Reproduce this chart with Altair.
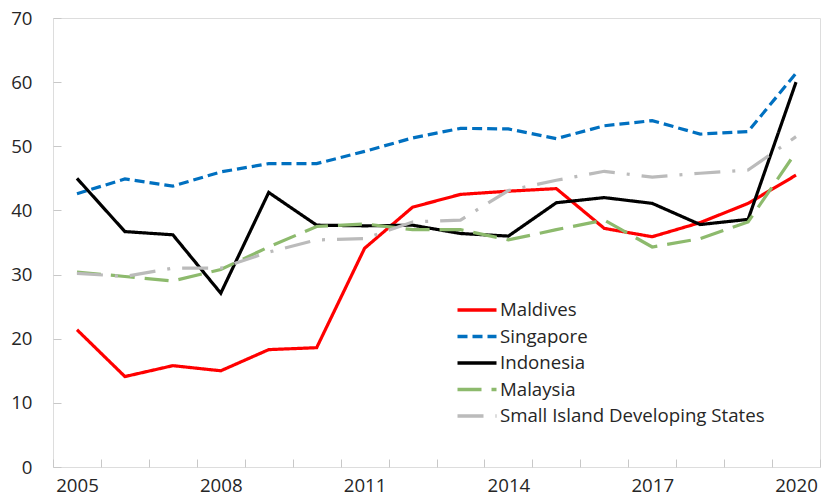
import altair as alt
import pandas as pd

years = list(range(2005, 2021))
series_names = ["Maldives", "Singapore", "Indonesia", "Malaysia", "Small Island Developing States"]
maldives = [21.4, 14.1, 15.8, 15.0, 18.3, 18.6, 34.1, 40.5, 42.5, 43.0, 43.4, 37.2, 35.9, 38.1, 41.1, 45.5]
singapore = [42.6, 44.9, 43.8, 46.0, 47.3, 47.3, 49.2, 51.3, 52.8, 52.7, 51.2, 53.2, 54.0, 51.9, 52.3, 61.4]
indonesia = [45.0, 36.7, 36.2, 27.1, 42.8, 37.7, 37.6, 37.7, 36.4, 36.0, 41.2, 42.0, 41.1, 37.8, 38.6, 60.0]
malaysia = [30.4, 29.7, 29.0, 30.8, 34.3, 37.5, 37.9, 37.0, 37.0, 35.4, 37.0, 38.5, 34.3, 35.6, 38.2, 49.1]
sids = [30.2, 29.7, 31.0, 31.0, 33.5, 35.4, 35.6, 38.2, 38.5, 43.1, 44.7, 46.1, 45.2, 45.8, 46.3, 51.5]

colors = ["#FF0000", "#0070C0", "#000000", "#8DBA6D", "#BBBBBB"]
dashes = [[1, 0], [10, 5], [1, 0], [24, 10], [26, 12, 3, 12]]
x_label_values = [2005, 2008, 2011, 2014, 2017, 2020]
y_values = [0, 10, 20, 30, 40, 50, 60, 70]
x_tick_values = [y - 0.5 for y in years] + [2020.5]

rows = []
for name, vals in zip(series_names, [maldives, singapore, indonesia, malaysia, sids]):
    for yr, v in zip(years, vals):
        rows.append({"series": name, "year": yr, "value": v})
df = pd.DataFrame(rows)

FONT = "Open Sans"
W, H = 767, 449

xscale = alt.Scale(domain=[2004.5, 2020.5], nice=False, zero=False)
yscale = alt.Scale(domain=[0, 70], nice=False)

legend_kw = dict(title=None, orient="none", legendX=412, legendY=280,
                 symbolType="M-1.95,0H1.95", symbolSize=400,
                 symbolStrokeWidth=3.5, labelOffset=11, rowPadding=4.5,
                 padding=0, labelFontSize=18.67, labelFont=FONT,
                 labelColor="#262626", labelLimit=400,
                 symbolDash={"expr": "datum.label == 'Singapore' ? [8, 5] : [1, 0]"})

lines = alt.Chart(df).mark_line(strokeWidth=3.2).encode(
    x=alt.X("year:Q", scale=xscale,
            axis=alt.Axis(orient="bottom", values=x_label_values, format="d", ticks=False,
                          domain=False, grid=False, title=None, labelPadding=9,
                          labelFontSize=18.67, labelFont=FONT, labelColor="#262626")),
    y=alt.Y("value:Q", scale=yscale,
            axis=alt.Axis(orient="left", values=y_values, ticks=False, domain=False, grid=False,
                          title=None, labelPadding=21, labelFontSize=18.67, labelFont=FONT,
                          labelColor="#262626")),
    color=alt.Color("series:N", scale=alt.Scale(domain=series_names, range=colors),
                    legend=alt.Legend(**legend_kw)),
    strokeDash=alt.StrokeDash("series:N", scale=alt.Scale(domain=series_names, range=dashes),
                              legend=None),
)

ticks = alt.Chart(df).mark_point(opacity=0).encode(
    x=alt.X("year:Q", scale=xscale,
            axis=alt.Axis(orient="top", offset=-H, values=x_tick_values, labels=False, domain=False,
                          grid=False, title=None, tickSize=8, tickColor="#C8C8C8", tickWidth=1)),
    y=alt.Y("value:Q", scale=yscale,
            axis=alt.Axis(orient="right", offset=-W, values=y_values, labels=False, domain=False,
                          grid=False, title=None, tickSize=8, tickColor="#C8C8C8", tickWidth=1)),
)

chart = alt.layer(lines, ticks).resolve_axis(x="independent", y="independent").properties(
    width=W, height=H,
    autosize=alt.AutoSizeParams(type="none"),
    padding={"left": 45, "top": 10, "right": 1, "bottom": 29},
).configure_view(stroke="#C8C8C8", strokeWidth=1).configure(background="white")

chart.save("out.html", embed_options={"renderer": "svg", "actions": False})
